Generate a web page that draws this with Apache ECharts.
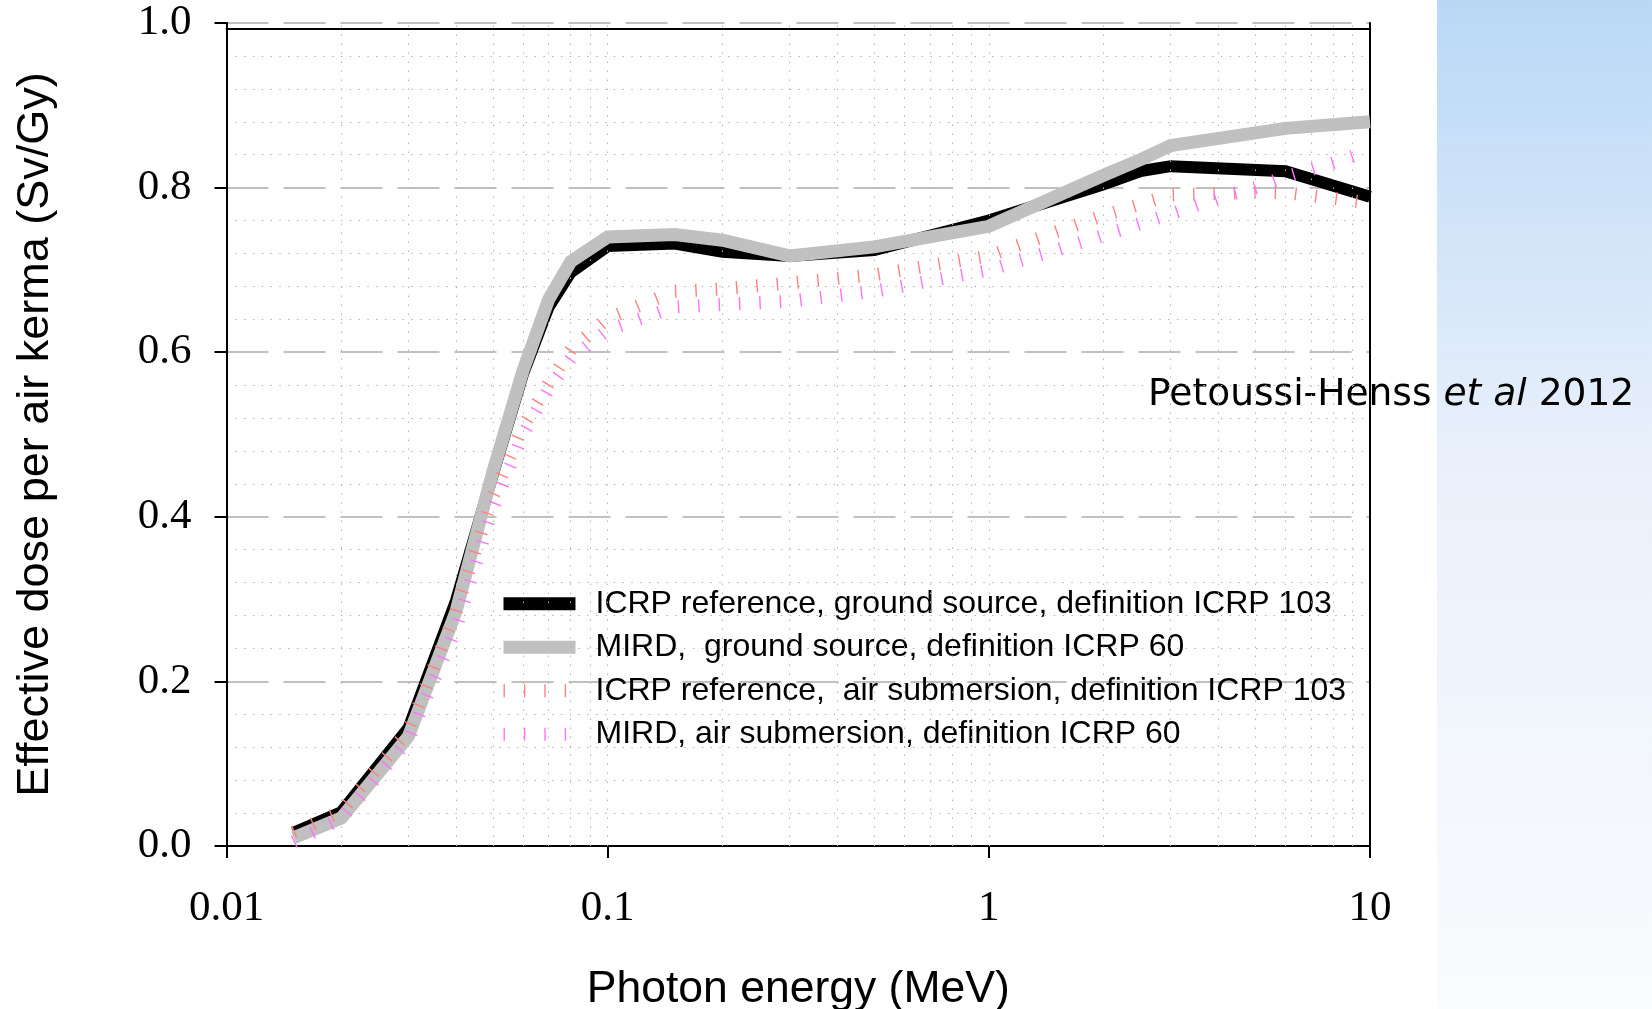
<!DOCTYPE html>
<html>
<head>
<meta charset="utf-8">
<title>Effective dose per air kerma</title>
<script src="https://cdn.jsdelivr.net/npm/echarts@6/dist/echarts.min.js"></script>
<style>
  html, body { margin: 0; padding: 0; background: #ffffff; }
  #chart { width: 1652px; height: 1009px; }
</style>
</head>
<body>
<div id="chart"></div>
<script>
// Photon energies (MeV) and effective dose per air kerma (Sv/Gy)
const energyGround = [0.015, 0.02, 0.03, 0.04, 0.05, 0.06, 0.07, 0.08, 0.1, 0.15, 0.2, 0.3, 0.5, 1, 2, 2.5, 3, 6, 10];
const icrpGround   = [0.016, 0.041, 0.143, 0.298, 0.452, 0.574, 0.655, 0.697, 0.729, 0.732, 0.722, 0.717, 0.724, 0.760, 0.804, 0.820, 0.826, 0.820, 0.789];
const mirdGround   = [0.010, 0.034, 0.133, 0.285, 0.455, 0.578, 0.664, 0.710, 0.740, 0.743, 0.736, 0.717, 0.728, 0.753, 0.815, 0.834, 0.851, 0.872, 0.880];

const energyAir = [0.015, 0.02, 0.03, 0.04, 0.05, 0.06, 0.07, 0.08, 0.1, 0.15, 0.2, 0.3, 0.5, 1, 1.5, 2, 3, 4, 5, 6, 8, 10];
const icrpAir   = [0.017, 0.042, 0.140, 0.285, 0.425, 0.510, 0.562, 0.603, 0.641, 0.674, 0.677, 0.684, 0.694, 0.717, 0.746, 0.766, 0.791, 0.793, 0.794, 0.794, 0.787, 0.781];
const mirdAir   = [0.005, 0.033, 0.129, 0.264, 0.410, 0.500, 0.555, 0.592, 0.627, 0.655, 0.658, 0.662, 0.674, 0.700, 0.724, 0.742, 0.768, 0.787, 0.800, 0.813, 0.830, 0.845];

const seriesNames = [
  'ICRP reference, ground source, definition ICRP 103',
  'MIRD,  ground source, definition ICRP 60',
  'ICRP reference,  air submersion, definition ICRP 103',
  'MIRD, air submersion, definition ICRP 60'
];

const xTickLabels = ['0.01', '0.1', '1', '10'];
const yTickLabels = ['0.0', '0.2', '0.4', '0.6', '0.8', '1.0'];

const pairs = (xs, ys) => xs.map((x, i) => [x, ys[i]]);

// dotted vertical grid at every 1..9 step of each decade
const logGrid = [];
[0.01, 0.1, 1].forEach(d => {
  for (let k = 1; k <= 9; k++) if (!(d === 0.01 && k === 1)) logGrid.push(+(d * k).toPrecision(3));
});

const chart = echarts.init(document.getElementById('chart'), null, { renderer: 'canvas' });

const tickPattern = [1.4, 19];

chart.setOption({
  animation: false,
  backgroundColor: '#ffffff',
  grid: { left: 226.5, right: 282, top: 23, bottom: 163, containLabel: false, outerBoundsMode: 'none' },
  xAxis: [{
    type: 'log', logBase: 10, min: 0.01, max: 10,
    name: 'Photon energy (MeV)', nameLocation: 'middle', nameGap: 122,
    nameTextStyle: { fontFamily: 'Liberation Sans', fontSize: 44.5, color: '#000', lineHeight: 44 },
    axisLine: { show: true, onZero: false, lineStyle: { color: '#000', width: 2 } },
    axisTick: { show: true, inside: false, length: 12, lineStyle: { color: '#000', width: 2 } },
    axisLabel: {
      margin: 41, fontFamily: 'Liberation Serif', fontSize: 43, color: '#000', lineHeight: 43,
      formatter: v => xTickLabels[Math.round(Math.log10(v)) + 2]
    },
    splitLine: { show: false },
    minorTick: { show: false },
    minorSplitLine: { show: false }
  }, {
    // upper frame of the plot box
    type: 'value', position: 'top', min: 0, max: 1, offset: -6,
    axisLine: { show: true, onZero: false, lineStyle: { color: '#000', width: 2 } },
    axisTick: { show: false }, axisLabel: { show: false }, splitLine: { show: false }
  }],
  yAxis: [{
    type: 'value', min: 0, max: 1, interval: 0.2,
    name: 'Effective dose per air kerma (Sv/Gy)', nameLocation: 'middle', nameGap: 169,
    nameTextStyle: { fontFamily: 'Liberation Sans', fontSize: 45, color: '#000', lineHeight: 44 },
    axisLine: { show: true, onZero: false, lineStyle: { color: '#000', width: 2 } },
    axisTick: { show: true, inside: false, length: 12, lineStyle: { color: '#000', width: 2 } },
    axisLabel: {
      margin: 35, fontFamily: 'Liberation Serif', fontSize: 43, color: '#000', lineHeight: 43,
      padding: [8, 0, 0, 0],
      formatter: v => yTickLabels[Math.round(v / 0.2)]
    },
    splitLine: { show: true, lineStyle: { color: '#c0c0c0', width: 2, type: [42, 15] } },
    minorTick: { show: false, splitNumber: 5 },
    minorSplitLine: { show: true, lineStyle: { color: '#b4b4b4', width: 1, type: [1.5, 7.3] } }
  }, {
    // right frame of the plot box
    type: 'value', position: 'right', min: 0, max: 1,
    axisLine: { show: true, onZero: false, lineStyle: { color: '#000', width: 2 } },
    axisTick: { show: false }, axisLabel: { show: false }, splitLine: { show: false }
  }],
  legend: {
    orient: 'vertical', left: 492, top: 577,
    itemWidth: 72, itemHeight: 13, itemGap: 0,
    selectedMode: false,
    textStyle: { fontFamily: 'Liberation Sans', fontSize: 32, color: '#000', lineHeight: 43.5, padding: [0, 0, 0, 15] },
    data: seriesNames.map(n => ({ name: n, itemStyle: { opacity: 0 }, lineStyle: { width: 13 } }))
  },
  graphic: [
    {
      type: 'rect', left: 1437, top: 0, z: -10, silent: true,
      shape: { width: 215, height: 1009 },
      style: {
        fill: new echarts.graphic.LinearGradient(0, 0, 0, 1, [
          { offset: 0, color: '#b9d8f6' },
          { offset: 0.45, color: '#e9f0fb' },
          { offset: 1, color: '#fafbfe' }
        ])
      }
    },
    {
      type: 'text', left: 1148, top: 376, z: -5, silent: true,
      style: {
        text: '{n|Petoussi-Henss }{i|et al}{n| 2012}',
        rich: {
          n: { fontFamily: 'DejaVu Sans', fontSize: 37.6, fill: '#000', lineHeight: 40 },
          i: { fontFamily: 'DejaVu Sans', fontStyle: 'italic', fontSize: 37.6, fill: '#000', lineHeight: 40 }
        }
      }
    }
  ],
  series: [
    {
      name: 'grid', type: 'line', data: [], silent: true, z: 1,
      markLine: {
        silent: true, symbol: 'none', animation: false,
        label: { show: false },
        lineStyle: { color: '#b4b4b4', width: 1, type: [1.5, 7.5] },
        data: logGrid.map(x => ({ xAxis: x }))
      }
    },
    {
      name: seriesNames[0], type: 'line', data: pairs(energyGround, icrpGround),
      symbol: 'none', z: 2, color: '#000000',
      lineStyle: { color: '#000000', width: 12, join: 'miter', cap: 'butt' }
    },
    {
      name: seriesNames[1], type: 'line', data: pairs(energyGround, mirdGround),
      symbol: 'none', z: 3, color: '#c0c0c0',
      lineStyle: { color: '#c0c0c0', width: 13, join: 'miter', cap: 'butt' }
    },
    {
      name: seriesNames[2], type: 'line', data: pairs(energyAir, icrpAir),
      symbol: 'none', z: 4, color: '#ff8080',
      lineStyle: { color: '#ff8080', width: 13, type: tickPattern, cap: 'butt' }
    },
    {
      name: seriesNames[3], type: 'line', data: pairs(energyAir, mirdAir),
      symbol: 'none', z: 5, color: '#ff70ff',
      lineStyle: { color: '#ff70ff', width: 13, type: tickPattern, cap: 'butt' }
    }
  ]
});
</script>
</body>
</html>
